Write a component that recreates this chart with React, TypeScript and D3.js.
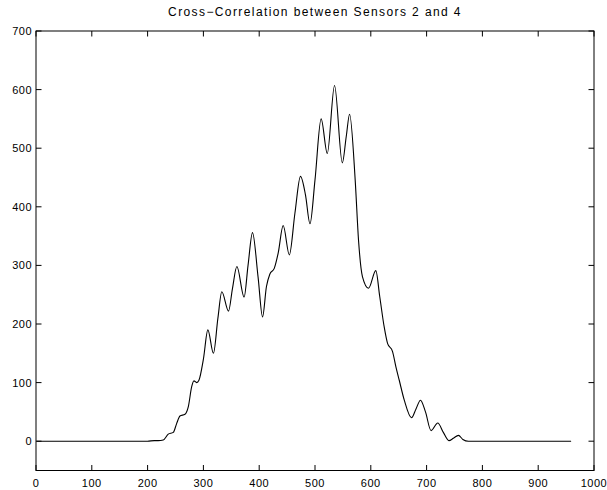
import React from "react";
import * as d3 from "d3";

const lagX = [1, 100, 200, 212, 219, 228, 237, 246, 252, 258, 267, 273, 279, 283, 288, 292, 300, 308, 318, 326, 333, 345, 352, 360, 373, 380, 388, 398, 406, 413, 419, 427, 434, 443, 454, 464, 474, 483, 491, 500, 511, 522, 535, 549, 556, 562, 572, 578, 585, 596, 609, 616, 624, 630, 639, 645, 651, 660, 673, 681, 689, 698, 708, 720, 730, 740, 748, 757, 765, 775, 800, 900, 959];
const corrY = [0, 0, 0, 1, 1, 2, 12, 15, 30, 43, 46, 59, 93, 103, 100, 104, 140, 190, 150, 210, 255, 222, 260, 298, 246, 300, 356, 280, 212, 264, 285, 295, 321, 368, 318, 389, 452, 420, 371, 446, 550, 491, 607, 475, 520, 558, 446, 343, 281, 261, 291, 247, 195, 167, 153, 127, 104, 70, 40, 55, 70, 50, 18, 31, 15, 1, 5, 10, 3, 0, 0, 0, 0];

const xTicks = [0, 100, 200, 300, 400, 500, 600, 700, 800, 900, 1000];
const yTicks = [0, 100, 200, 300, 400, 500, 600, 700];
const title = "Cross\u2212Correlation between Sensors 2 and 4";

export default function App() {
  const W = 607, H = 490;
  const L = 36, R = 594, T = 31, B = 470.5;
  const x = d3.scaleLinear().domain([0, 1000]).range([L, R]);
  const y = d3.scaleLinear().domain([-50, 700]).range([B, T]);
  const pts: [number, number][] = lagX.map((v, i) => [v, corrY[i]]);
  const line = d3.line<[number, number]>().x(d => x(d[0])).y(d => y(d[1])).curve(d3.curveMonotoneX);
  const font = "'Liberation Sans', Arial, Helvetica, sans-serif";
  const tl = 5.5;
  return (
    <svg width={W} height={H} style={{ position: "absolute", left: 0, top: 0 }} fontFamily={font}>
      <rect x={0} y={0} width={W} height={H} fill="#fff" />
      <text x={(L + R) / 2} y={16} textAnchor="middle" fontSize={12} letterSpacing={1.4} fill="#000">{title}</text>
      <path d={line(pts) || ""} fill="none" stroke="#000" strokeWidth={1.1} />
      <rect x={L} y={T} width={R - L} height={B - T} fill="none" stroke="#000" strokeWidth={1} />
      {xTicks.map(t => (
        <g key={"x" + t}>
          <line x1={x(t)} x2={x(t)} y1={B} y2={B - tl} stroke="#000" />
          <line x1={x(t)} x2={x(t)} y1={T} y2={T + tl} stroke="#000" />
          <text x={x(t)} y={487} textAnchor="middle" fontSize={11} letterSpacing={0.5} fill="#000">{t}</text>
        </g>
      ))}
      {yTicks.map(t => (
        <g key={"y" + t}>
          <line x1={L} x2={L + tl} y1={y(t)} y2={y(t)} stroke="#000" />
          <line x1={R} x2={R - tl} y1={y(t)} y2={y(t)} stroke="#000" />
          <text x={32} y={y(t) + 4} textAnchor="end" fontSize={11} letterSpacing={0.5} fill="#000">{t}</text>
        </g>
      ))}
    </svg>
  );
}
